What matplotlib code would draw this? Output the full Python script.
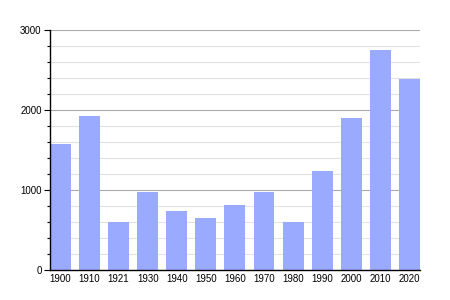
import numpy as np
import matplotlib
matplotlib.use("Agg")
import matplotlib.pyplot as plt
from matplotlib.ticker import MultipleLocator

# Population by census year
years = ["1900", "1910", "1921", "1930", "1940", "1950", "1960",
         "1970", "1980", "1990", "2000", "2010", "2020"]
population = [1580, 1920, 602, 979, 740, 652, 816,
              979, 602, 1242, 1895, 2748, 2384]

plt.rcParams['font.family'] = ['Liberation Sans', 'DejaVu Sans']

fig = plt.figure(figsize=(4.5, 3), dpi=100)
ax = fig.add_axes([0.111, 0.1, 0.822, 0.8])

x = np.arange(len(years))
w = 0.72
ax.bar(x, population, width=w, color='#99aaff', zorder=2)

ax.set_xlim(-w / 2, len(years) - 1 + w / 2)
ax.set_ylim(0, 3000)
ax.set_xticks(x)
ax.set_xticklabels(years)
ax.yaxis.set_major_locator(MultipleLocator(1000))
ax.yaxis.set_minor_locator(MultipleLocator(200))

ax.grid(axis='y', which='major', color='#aaaaaa', linewidth=0.8, zorder=0)
ax.grid(axis='y', which='minor', color='#e2e2e2', linewidth=0.8, zorder=0)
ax.set_axisbelow(True)

for side in ['top', 'right']:
    ax.spines[side].set_visible(False)
ax.spines['left'].set_linewidth(1)
ax.spines['bottom'].set_linewidth(1)

ax.tick_params(axis='x', length=0, labelsize=7, pad=3)
ax.tick_params(axis='y', which='major', length=4, width=0.8, labelsize=7, pad=2)
ax.tick_params(axis='y', which='minor', length=2.5, width=0.8)

fig.savefig('out.png', dpi=100)
